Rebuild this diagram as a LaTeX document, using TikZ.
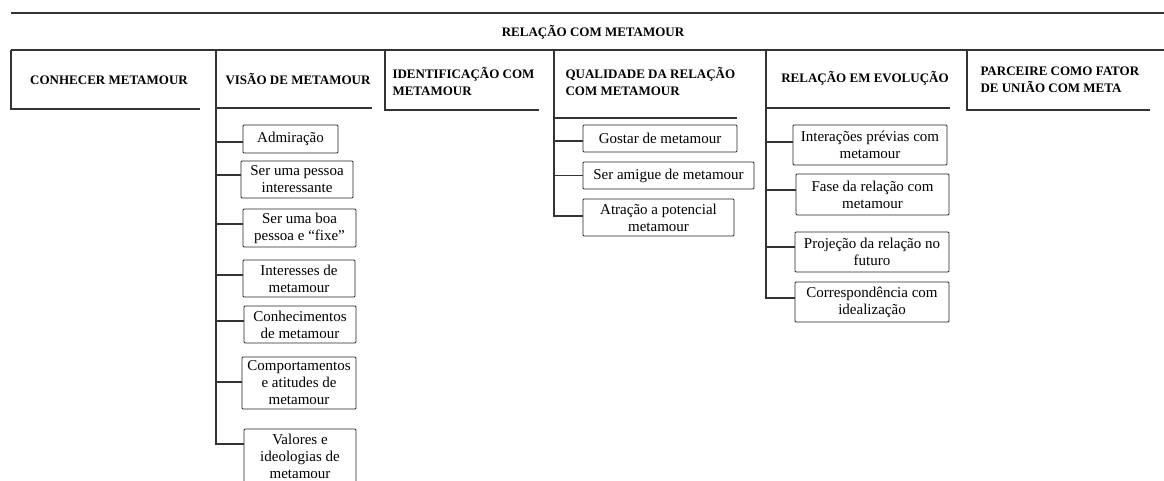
\documentclass[tikz,border=0pt]{standalone}
\usepackage{fontspec}
\setmainfont{Liberation Serif}
\begin{document}
\begin{tikzpicture}[x=1pt,y=-1pt,
  line width=1pt, draw=black!85,
  hdr/.style={font=\fontsize{13}{17}\selectfont\bfseries, inner sep=0pt},
  hdrl/.style={hdr, anchor=west, align=left},
  leaf/.style={draw=black!85, line width=0.9pt, rounded corners=1pt, align=center,
    font=\fontsize{15}{17}\selectfont, inner sep=0pt, anchor=center},
  conn/.style={line width=1.1pt, draw=black!80}
]
\useasboundingbox (0,0) rectangle (1164,480);

% top lines and title
\coordinate (tl) at (11,13);
\coordinate (tr) at (1164,13);
\coordinate (hl) at (11,50);
\coordinate (hr) at (1164,50);
\draw[conn] (tl) -- (tr);
\draw[conn] (hl) -- (hr);
\node[hdr] (title) at (593,32) {RELAÇÃO COM METAMOUR};

% header columns
\coordinate (c1) at (11,50);
\coordinate (c2) at (216,50);
\coordinate (c3) at (385,50);
\coordinate (c4) at (554,50);
\coordinate (c5) at (766,50);
\coordinate (c6) at (967,50);

\node[hdr] (h1) at (109,80) {CONHECER METAMOUR};
\node[hdr] (h2) at (298,79) {VISÃO DE METAMOUR};
\node[hdrl] (h3) at (392,81) {IDENTIFICAÇÃO COM\\METAMOUR};
\node[hdrl] (h4) at (565,81) {QUALIDADE DA RELAÇÃO\\COM METAMOUR};
\node[hdr] (h5) at (865,78) {RELAÇÃO EM EVOLUÇÃO};
\node[hdrl] (h6) at (980,80) {PARCEIRE COMO FATOR\\DE UNIÃO COM META};

\coordinate (b1) at (200,109);
\coordinate (b2) at (372,108);
\coordinate (b3) at (539,110);
\coordinate (b4) at (737,118);
\coordinate (b5) at (950,108);
\coordinate (b6) at (1150,110);

\draw[conn] (c1) |- (b1);
\draw[conn] (b2 -| c2) -- (b2);
\draw[conn] (c3) |- (b3);
\draw[conn] (b4 -| c4) -- (b4);
\draw[conn] (b5 -| c5) -- (b5);
\draw[conn] (c6) |- (b6);

% VISAO children
\node[leaf, minimum width=95, minimum height=28] (v1) at (290.5,139) {Admiração};
\node[leaf, minimum width=112, minimum height=37] (v2) at (297,179.5) {Ser uma pessoa\\interessante};
\node[leaf, minimum width=113, minimum height=38] (v3) at (299.5,228) {Ser uma boa\\pessoa e “fixe”};
\node[leaf, minimum width=112, minimum height=37] (v4) at (299,278.5) {Interesses de\\metamour};
\node[leaf, minimum width=112, minimum height=37] (v5) at (300,324.5) {Conhecimentos\\de metamour};
\node[leaf, minimum width=114, minimum height=52] (v6) at (299,383) {Comportamentos\\e atitudes de\\metamour};
\node[leaf, minimum width=112, minimum height=54] (v7) at (300,456) {Valores e\\ideologias de\\metamour};

\coordinate (v7c) at ([yshift=12pt]v7.west);
\draw[conn] (c2) |- (v7c);
\draw[conn] ([yshift=-3pt]v1.west) -- ([yshift=-3pt]v1.west -| c2);
\draw[conn] ([yshift=4.5pt]v2.west) -- ([yshift=4.5pt]v2.west -| c2);
\draw[conn] ([yshift=4pt]v3.west) -- ([yshift=4pt]v3.west -| c2);
\draw[conn] ([yshift=3.5pt]v4.west) -- ([yshift=3.5pt]v4.west -| c2);
\draw[conn] ([yshift=3.5pt]v5.west) -- ([yshift=3.5pt]v5.west -| c2);
\draw[conn] ([yshift=1pt]v6.west) -- ([yshift=1pt]v6.west -| c2);

% QUALIDADE children
\node[leaf, minimum width=154, minimum height=27] (q1) at (660,138.5) {Gostar de metamour};
\node[leaf, minimum width=171, minimum height=27] (q2) at (668.5,175.5) {Ser amigue de metamour};
\node[leaf, minimum width=151, minimum height=37] (q3) at (658.5,217.5) {Atração a potencial\\metamour};

\coordinate (q3c) at ([yshift=1.5pt]q3.west);
\draw[conn] (c4) |- (q3c);
\draw[conn] ([yshift=-2.5pt]q1.west) -- ([yshift=-2.5pt]q1.west -| c4);
\draw[conn] (q2.west) -- (q2.west -| c4);

% EVOLUCAO children
\node[leaf, minimum width=154, minimum height=40] (e1) at (870,145) {Interações prévias com\\metamour};
\node[leaf, minimum width=153, minimum height=41] (e2) at (872.5,194.5) {Fase da relação com\\metamour};
\node[leaf, minimum width=154, minimum height=40] (e3) at (872,252) {Projeção da relação no\\futuro};
\node[leaf, minimum width=154, minimum height=40] (e4) at (872,302) {Correspondência com\\idealização};

\coordinate (e4c) at ([yshift=4pt]e4.west);
\draw[conn] (c5) |- (e4c);
\draw[conn] ([yshift=3pt]e1.west) -- ([yshift=3pt]e1.west -| c5);
\draw[conn] ([yshift=4.5pt]e2.west) -- ([yshift=4.5pt]e2.west -| c5);
\draw[conn] ([yshift=5pt]e3.west) -- ([yshift=5pt]e3.west -| c5);
\end{tikzpicture}
\end{document}
